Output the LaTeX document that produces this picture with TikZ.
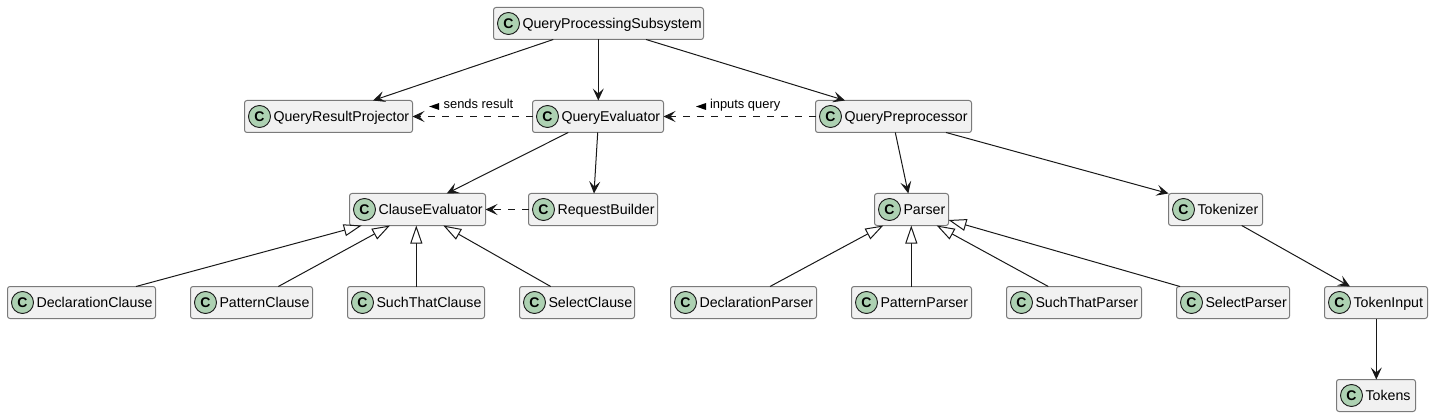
\documentclass[tikz,border=0pt]{standalone}
\usepackage{fontspec}
\setmainfont{Liberation Sans}
\usetikzlibrary{arrows.meta}
\definecolor{linec}{HTML}{181818}
\definecolor{boxline}{HTML}{7A7A7A}
\definecolor{boxfill}{HTML}{F1F1F1}
\definecolor{markfill}{HTML}{ADD1B2}
\tikzset{
  x=1pt,y=-1pt,
  cbox/.style={draw=boxline,fill=boxfill,line width=1pt,rounded corners=2.5pt,inner xsep=0pt,inner ysep=0pt,outer sep=0pt,
    minimum height=32pt,align=left,text height=11pt,text depth=1pt,text=black,font=\fontsize{14.2}{16}\selectfont},
  cmark/.style={circle,draw=linec,fill=markfill,line width=.9pt,minimum size=22pt,inner sep=0pt,outer sep=0pt,
    font=\fontsize{14}{14}\selectfont\bfseries,text=black},
  assoc/.style={draw=linec,line width=1pt,-{Stealth[length=12pt,width=11pt,inset=5pt,fill=linec]}},
  dep/.style={assoc,dash pattern=on 7pt off 7pt},
  inherit/.style={draw=linec,line width=1pt,-{Triangle[open,length=18pt,width=12pt,fill=white]}},
  edgelabel/.style={inner sep=0pt,outer sep=0pt,anchor=west,text=black,font=\fontsize{12.9}{14}\selectfont,text height=9pt,text depth=2.5pt},
}
\newcommand{\cls}[5]{%
  \pgfmathsetmacro{\boxw}{#3-#2}
  \node[cbox,anchor=north west,text width=\boxw pt] (#1) at (#2,#4) {\hspace*{29pt}\mbox{#5}};
  \node[cmark] (#1-c) at ([xshift=15pt]#1.west) {C};
}
\begin{document}
\begin{tikzpicture}
\useasboundingbox (0,0) rectangle (1433,417);
\cls{qps}{493.5}{703.5}{7.5}{QueryProcessingSubsystem}
\cls{qrp}{244.5}{412.5}{100.5}{QueryResultProjector}
\cls{qe}{532.5}{663.5}{100.5}{QueryEvaluator}
\cls{qp}{815.5}{971.5}{100.5}{QueryPreprocessor}
\cls{ce}{349.5}{485.5}{193.5}{ClauseEvaluator}
\cls{rb}{528.5}{657.5}{193.5}{RequestBuilder}
\cls{pa}{874.5}{948.5}{193.5}{Parser}
\cls{tk}{1168.5}{1262.5}{193.5}{Tokenizer}
\cls{dc}{7.5}{155.5}{286.5}{DeclarationClause}
\cls{pc}{190.5}{312.5}{286.5}{PatternClause}
\cls{stc}{347.5}{484.5}{286.5}{SuchThatClause}
\cls{sc}{519.5}{634.5}{286.5}{SelectClause}
\cls{dp}{670.5}{816.5}{286.5}{DeclarationParser}
\cls{pp}{851.5}{971.5}{286.5}{PatternParser}
\cls{stp}{1006.5}{1141.5}{286.5}{SuchThatParser}
\cls{sp}{1176.5}{1289.5}{286.5}{SelectParser}
\cls{ti}{1324.5}{1427.5}{286.5}{TokenInput}
\cls{to}{1336.5}{1415.5}{379.5}{Tokens}
% associations
\draw[assoc] ([xshift=59.8pt]qps.south west) -- ([xshift=128.5pt]qrp.north west);
\draw[assoc] ([xshift=104.8pt]qps.south west) -- ([xshift=65.8pt]qe.north west);
\draw[assoc] ([xshift=152.5pt]qps.south west) -- ([xshift=29.5pt]qp.north west);
\draw[assoc] ([xshift=35.8pt]qe.south west) -- ([xshift=97.2pt]ce.north west);
\draw[assoc] ([xshift=65.2pt]qe.south west) -- ([xshift=65.5pt]rb.north west);
\draw[assoc] ([xshift=79.8pt]qp.south west) -- ([xshift=33.8pt]pa.north west);
\draw[assoc] ([xshift=130.5pt]qp.south west) -- (tk.north west);
\draw[assoc] ([xshift=73.2pt]tk.south west) -- ([xshift=25.5pt]ti.north west);
\draw[assoc] ([xshift=51.8pt]ti.south west) -- ([xshift=39.8pt]to.north west);
% dependencies
\draw[dep] (qe.west) -- (qrp.east);
\draw[dep] (qp.west) -- (qe.east);
\draw[dep] (rb.west) -- (ce.east);
% inheritance
\draw[inherit] ([xshift=128.5pt]dc.north west) -- ([xshift=12.2pt]ce.south west);
\draw[inherit] ([xshift=87.8pt]pc.north west) -- ([xshift=40.5pt]ce.south west);
\draw[inherit] ([xshift=68.8pt]stc.north west) -- ([xshift=66.8pt]ce.south west);
\draw[inherit] ([xshift=31.2pt]sc.north west) -- ([xshift=93.8pt]ce.south west);
\draw[inherit] ([xshift=99.5pt]dp.north west) -- ([xshift=8.8pt]pa.south west);
\draw[inherit] ([xshift=59.8pt]pp.north west) -- ([xshift=36.8pt]pa.south west);
\draw[inherit] ([xshift=41.8pt]stp.north west) -- ([xshift=62.2pt]pa.south west);
\draw[inherit] ([xshift=3.5pt]sp.north west) -- ([yshift=5.5pt]pa.south east);
% labels
\node[edgelabel] (l1) at (443.7,105.5) {sends result};
\fill[black] ([xshift=-14.5pt,yshift=-1pt]l1.west) -- ++(10,-3.5) -- ++(0,7) -- cycle;
\node[edgelabel] (l2) at (710,105.5) {inputs query};
\fill[black] ([xshift=-14pt,yshift=-1pt]l2.west) -- ++(10,-3.5) -- ++(0,7) -- cycle;
\end{tikzpicture}
\end{document}
